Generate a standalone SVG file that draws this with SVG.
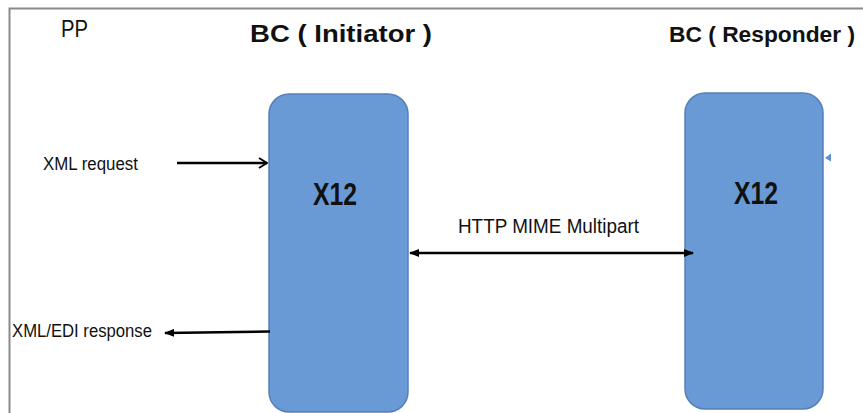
<svg xmlns="http://www.w3.org/2000/svg" width="863" height="413" viewBox="0 0 863 413">
<style>
.t{font-family:"Liberation Sans",Arial,sans-serif;fill:#111}
.b{font-weight:bold}
.box{fill:#6A9AD5;stroke:#5580B8;stroke-width:1.5}
.ln{stroke:#000;stroke-width:2.4;fill:none}
</style>
<defs>
<marker id="fa" viewBox="0 0 10 8" refX="9" refY="4" markerWidth="10" markerHeight="8" markerUnits="userSpaceOnUse" orient="auto-start-reverse">
<path d="M0,0 L10,4 L0,8 Z" fill="#000"/>
</marker>
<marker id="oa" viewBox="0 0 10 12" refX="9" refY="6" markerWidth="10" markerHeight="12" markerUnits="userSpaceOnUse" orient="auto">
<path d="M1,1 L9,6 L1,11" fill="none" stroke="#000" stroke-width="2"/>
</marker>
</defs>
<rect width="863" height="413" fill="#fff"/>
<path d="M9.5,413 V8.5 H863" fill="none" stroke="#8a8a8a" stroke-width="2"/>
<text class="t" x="61" y="37" font-size="23" textLength="27" lengthAdjust="spacingAndGlyphs">PP</text>
<text class="t b" x="250" y="42" font-size="24" textLength="182" lengthAdjust="spacingAndGlyphs">BC ( Initiator )</text>
<text class="t b" x="669" y="42" font-size="22" textLength="186" lengthAdjust="spacingAndGlyphs">BC ( Responder )</text>
<g id="initiator">
<rect class="box" x="269" y="94" width="139" height="318" rx="20"/>
<text class="t b" x="313" y="205" font-size="31" textLength="44" lengthAdjust="spacingAndGlyphs">X12</text>
</g>
<g id="responder">
<rect class="box" x="685" y="93" width="138" height="316" rx="20"/>
<text class="t b" x="734" y="204" font-size="31" textLength="44" lengthAdjust="spacingAndGlyphs">X12</text>
</g>
<polygon points="825,158 831,153.5 831,161.5" fill="#5B8FD0"/>
<g id="labels">
<text class="t" x="43" y="170" font-size="18" textLength="95" lengthAdjust="spacingAndGlyphs">XML request</text>
<text class="t" x="12" y="337" font-size="18" textLength="140" lengthAdjust="spacingAndGlyphs">XML/EDI response</text>
<text class="t" x="458" y="233" font-size="20" textLength="181" lengthAdjust="spacingAndGlyphs">HTTP MIME Multipart</text>
</g>
<g id="connectors">
<line class="ln" x1="177" y1="163" x2="267" y2="163" marker-end="url(#oa)"/>
<line class="ln" x1="270" y1="331.5" x2="165" y2="333" marker-end="url(#fa)"/>
<line class="ln" x1="410" y1="253" x2="693" y2="253" marker-start="url(#fa)" marker-end="url(#fa)"/>
</g>
</svg>
